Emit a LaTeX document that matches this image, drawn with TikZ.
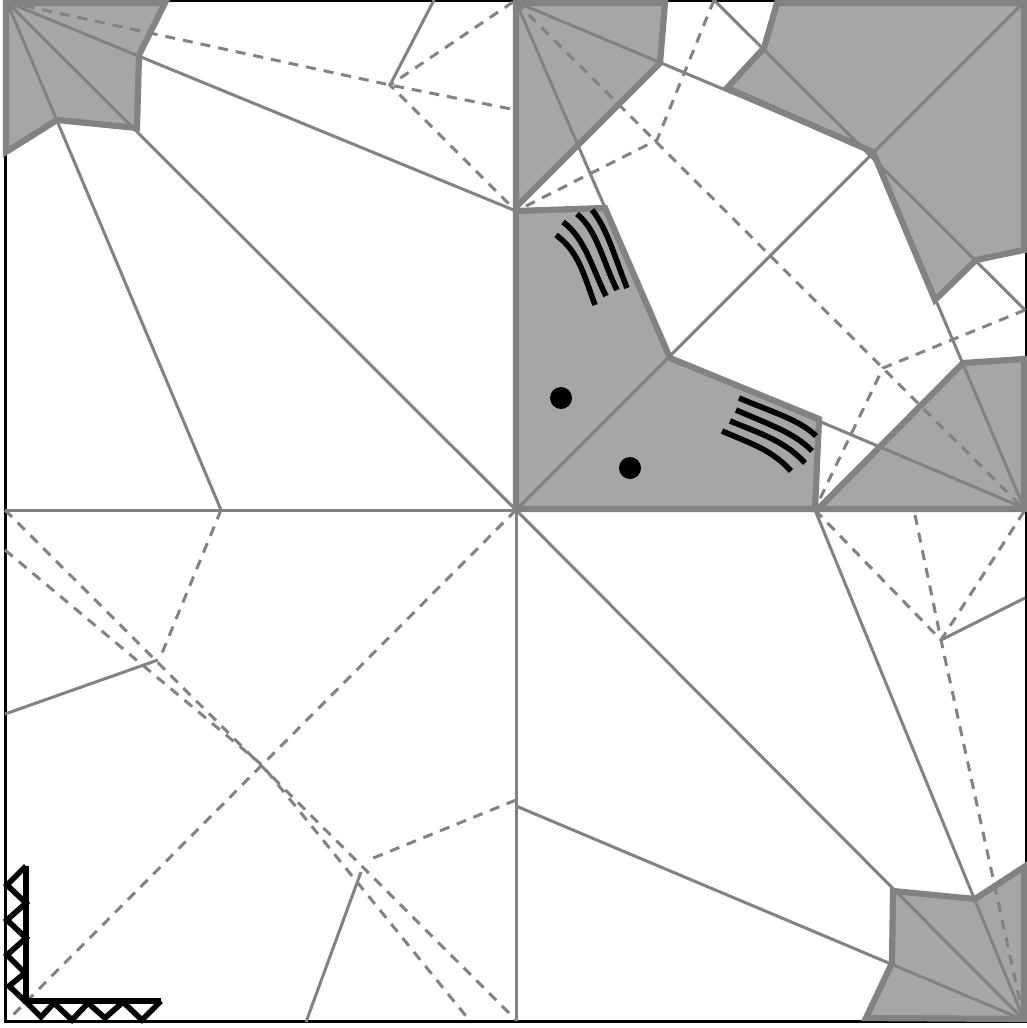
\documentclass[tikz,border=0pt]{standalone}
\usepackage{xcolor}
\usepackage{tikz}
\definecolor{myflap}{RGB}{166,166,166}
\definecolor{mycrease}{RGB}{130,130,130}
\tikzset{
  flap/.style={draw=mycrease, line width=6.2pt, line join=miter},
  mountain/.style={color=mycrease, line width=3pt},
  valley/.style={color=mycrease, line width=3pt, dash pattern=on 10pt off 8pt},
  stroke/.style={color=black, line width=5.6pt},
  zigzag/.style={color=black, line width=5.6pt, line join=miter}
}
\begin{document}
\begin{tikzpicture}[x=1pt, y=-1pt]
    \useasboundingbox (0,0) rectangle (1027,1028);
    \fill[white] (0,0) rectangle (1027,1028);
    \draw[color=black, line width=3pt] (5,0.5) rectangle (1026,1021);

    % coloured flaps
    \fill[myflap] (6,3) -- (165,3) -- (139,55) -- (137,128) -- (57,120) -- (6,152) -- cycle;
    \fill[myflap] (516,3) -- (665,3) -- (660,63) -- (516,207) -- cycle;
    \fill[myflap] (777,3) -- (1024,3) -- (1024,250) -- (976,260) -- (935,300) -- (873,152) -- (727,88) -- (764,48) -- cycle;
    \fill[myflap] (516,211) -- (604,208) -- (670,358) -- (819,419) -- (815,509) -- (516,509) -- cycle;
    \fill[myflap] (818,509) -- (963,363) -- (1024,359) -- (1024,509) -- cycle;
    \fill[myflap] (893,891) -- (975,899) -- (1024,867) -- (1024,1019) -- (866,1018) -- (892,963) -- cycle;

    % solid creases
    \draw[mountain] (7,2) -- (516,211);
    \draw[mountain] (7,2) -- (516,510);
    \draw[mountain] (7,2) -- (221,510);
    \draw[mountain] (390,85) -- (434,0);
    \draw[mountain] (516,2) -- (873,152);
    \draw[mountain] (516,2) -- (670,358);
    \draw[mountain] (714,0) -- (1025,310);
    \draw[mountain] (1024,2) -- (516,510);
    \draw[mountain] (873,152) -- (1024,508);
    \draw[mountain] (670,358) -- (1024,508);
    \draw[mountain] (5,510) -- (1024,510);
    \draw[mountain] (516,510) -- (516,1021);
    \draw[mountain] (516,510) -- (1024,1020);
    \draw[mountain] (815,510) -- (1024,1020);
    \draw[mountain] (516,806) -- (1024,1020);
    \draw[mountain] (941,640) -- (1025,598);
    \draw[mountain] (5,714) -- (158,660);
    \draw[mountain] (361,872) -- (306,1022);

    % dashed creases
    \draw[valley] (7,2) -- (390,85) -- (516,110);
    \draw[valley] (513,2) -- (390,85) -- (516,211);
    \draw[valley] (516,2) -- (1025,510);
    \draw[valley] (714,0) -- (657,140) -- (518,210);
    \draw[valley] (1025,310) -- (883,368) -- (815,509);
    \draw[valley] (815,510) -- (941,640) -- (1025,510);
    \draw[valley] (915,515) -- (941,640) -- (1024,1020);
    \draw[valley] (221,510) -- (160,658);
    \draw[valley] (5,510) -- (516,1020);
    \draw[valley] (5,550) -- (262,765) -- (470,1021);
    \draw[valley] (516,510) -- (8,1020);
    \draw[valley] (516,800) -- (366,861);

    % flap outlines
    \draw[flap] (165,3) -- (139,55) -- (137,128) -- (57,120) -- (6,152) -- (6,3) -- cycle;
    \draw[flap] (516,3) -- (665,3) -- (660,63) -- (516,207) -- cycle;
    \draw[flap] (777,3) -- (1024,3) -- (1024,250) -- (976,260) -- (935,300) -- (873,152) -- (727,88) -- (764,48) -- cycle;
    \draw[flap] (516,211) -- (605,208) -- (670,358) -- (819,419) -- (815,509) -- (516,509) -- cycle;
    \draw[flap] (818,509) -- (963,363) -- (1024,359) -- (1024,509) -- cycle;
    \draw[flap] (893,891) -- (975,899) -- (1024,867) -- (1024,1019) -- (866,1018) -- (892,963) -- cycle;

    % hatching and dots
    \draw[stroke] (556,235) .. controls (578,251) and (583,272) .. (595,305);
    \draw[stroke] (563,222) .. controls (585,238) and (592,268) .. (606,296);
    \draw[stroke] (577,214) .. controls (597,230) and (603,262) .. (617,290);
    \draw[stroke] (592,210) .. controls (607,228) and (615,258) .. (627,288);
    \draw[stroke] (722,431) .. controls (752,444) and (772,450) .. (791,471);
    \draw[stroke] (730,421) .. controls (762,434) and (786,442) .. (805,463);
    \draw[stroke] (736,410) .. controls (768,424) and (795,433) .. (812,451);
    \draw[stroke] (739,398) .. controls (772,412) and (800,420) .. (816,436);
    \fill[black] (561,398) circle (11);
    \fill[black] (630,468) circle (11);

    % corner mark
    \draw[zigzag] (26,866) -- (26,1001) -- (161,1001);
    \draw[zigzag] (26,866) -- (7,885) -- (26,903) -- (7,920) -- (26,938) -- (7,955) -- (25,973) -- (9,986) -- (26,1002);
    \draw[zigzag] (26,1002) -- (41,1017) -- (54,1003) -- (72,1020) -- (88,1003) -- (105,1018) -- (123,1002) -- (142,1020) -- (161,1001);
\end{tikzpicture}
\end{document}
